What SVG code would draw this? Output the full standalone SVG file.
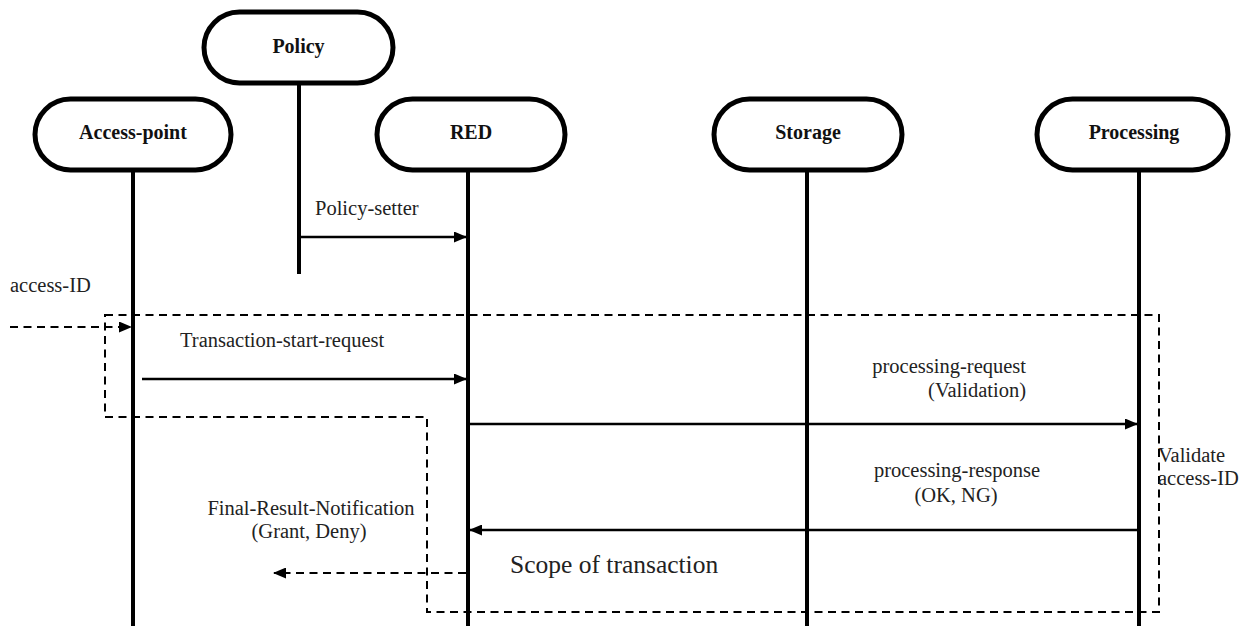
<svg xmlns="http://www.w3.org/2000/svg" width="1245" height="626" viewBox="0 0 1245 626">
  <style>
    .box { fill: #ffffff; stroke: #000000; stroke-width: 5; }
    .title { font-family: "Liberation Serif", "Times New Roman", serif; font-weight: bold; font-size: 20px; fill: #111111; text-anchor: middle; }
    .life { stroke: #000000; stroke-width: 4; fill: none; }
    .msg { stroke: #000000; stroke-width: 2.5; fill: none; }
    .dash { stroke: #000000; stroke-width: 2; fill: none; stroke-dasharray: 8 5.5; }
    .lbl { font-family: "Liberation Serif", "Times New Roman", serif; font-size: 20.5px; fill: #222222; }
    .big { font-family: "Liberation Serif", "Times New Roman", serif; font-size: 25.5px; fill: #222222; }
  </style>
  <defs>
    <marker id="head" markerWidth="13" markerHeight="11" refX="12" refY="5.5" orient="auto" markerUnits="userSpaceOnUse">
      <path d="M0,0 L13,5.5 L0,11 Z" fill="#000000"/>
    </marker>
  </defs>

  <rect width="1245" height="626" fill="#ffffff"/>

  <!-- participants with their lifelines -->
  <g id="policy">
    <line class="life" x1="299" y1="83" x2="299" y2="274"/>
    <rect class="box" x="204" y="12" width="189" height="71" rx="35.5" ry="35.5"/>
    <text class="title" x="298.5" y="53">Policy</text>
  </g>
  <g id="access-point">
    <line class="life" x1="133" y1="170" x2="133" y2="626"/>
    <rect class="box" x="35" y="99" width="196" height="71" rx="35.5" ry="35.5"/>
    <text class="title" x="133" y="139">Access-point</text>
  </g>
  <g id="red">
    <line class="life" x1="468" y1="170" x2="468" y2="626"/>
    <rect class="box" x="377" y="99" width="188" height="71" rx="35.5" ry="35.5"/>
    <text class="title" x="471" y="139">RED</text>
  </g>
  <g id="storage">
    <line class="life" x1="807" y1="170" x2="807" y2="626"/>
    <rect class="box" x="714" y="99" width="188" height="71" rx="35.5" ry="35.5"/>
    <text class="title" x="808" y="139">Storage</text>
  </g>
  <g id="processing">
    <line class="life" x1="1139" y1="170" x2="1139" y2="626"/>
    <rect class="box" x="1037" y="99" width="191" height="71" rx="35.5" ry="35.5"/>
    <text class="title" x="1134" y="139">Processing</text>
  </g>

  <!-- transaction scope outline -->
  <g id="scope">
    <path class="dash" d="M105,315 H1159 V612 H427 V417 H105 Z"/>
    <text class="big" x="510" y="573">Scope of transaction</text>
  </g>

  <!-- messages -->
  <g id="connectors">
    <line class="msg" x1="301" y1="237" x2="466" y2="237" marker-end="url(#head)"/>
    <line class="dash" x1="10" y1="327" x2="131" y2="327" marker-end="url(#head)"/>
    <line class="msg" x1="142" y1="379" x2="466" y2="379" marker-end="url(#head)"/>
    <line class="msg" x1="470" y1="424" x2="1137" y2="424" marker-end="url(#head)"/>
    <line class="msg" x1="1137" y1="530" x2="470" y2="530" marker-end="url(#head)"/>
    <line class="dash" x1="466" y1="573" x2="274" y2="573" marker-end="url(#head)"/>
  </g>

  <!-- message labels -->
  <g id="labels">
    <text class="lbl" x="315" y="215">Policy-setter</text>
    <text class="lbl" x="10" y="292">access-ID</text>
    <text class="lbl" x="180" y="347">Transaction-start-request</text>
    <text class="lbl" x="1026" y="373" text-anchor="end">processing-request</text>
    <text class="lbl" x="1026" y="397" text-anchor="end">(Validation)</text>
    <text class="lbl" x="957" y="477" text-anchor="middle">processing-response</text>
    <text class="lbl" x="956" y="502" text-anchor="middle">(OK, NG)</text>
    <text class="lbl" x="1158" y="462">Validate</text>
    <text class="lbl" x="1158" y="485">access-ID</text>
    <text class="lbl" x="311" y="515" text-anchor="middle">Final-Result-Notification</text>
    <text class="lbl" x="309" y="538" text-anchor="middle">(Grant, Deny)</text>
  </g>
</svg>
